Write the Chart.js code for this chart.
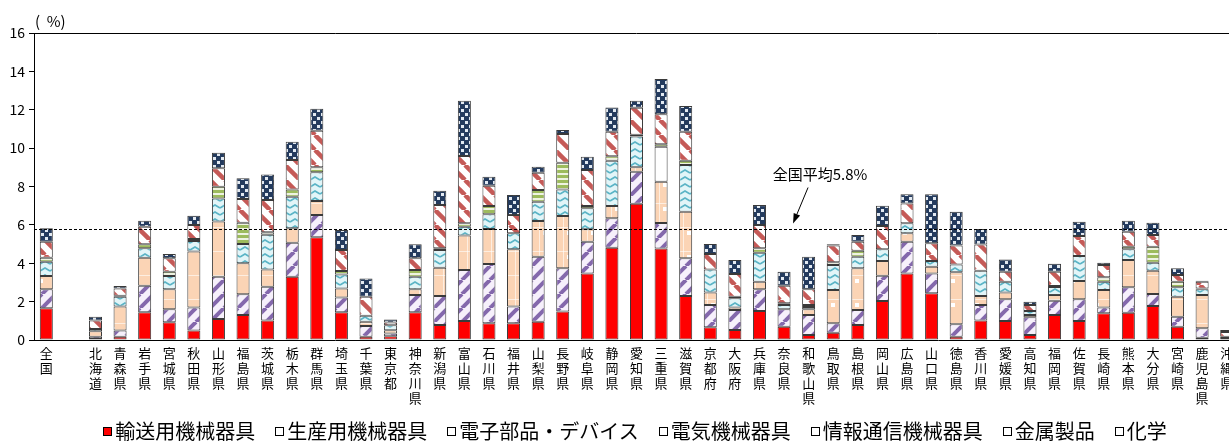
<!DOCTYPE html>
<html>
<head>
<meta charset="utf-8">
<script src="https://cdn.jsdelivr.net/npm/chart.js@4.4.0/dist/chart.umd.min.js"></script>
<style>
html, body { margin: 0; padding: 0; background: #fff; overflow: hidden; }
#wrap { position: relative; width: 1229px; height: 441px; overflow: hidden; }
#box { position: absolute; left: 0; top: 0; width: 1240px; height: 441px; }
#legend { position: absolute; left: 0; top: 421px; width: 1270px; display: flex; justify-content: center;
  font: 20px/20px "Noto Sans CJK JP"; color: #000; white-space: nowrap; }
#legend .item { display: flex; align-items: center; margin: 0 10px; }
#legend i { display: inline-block; width: 7px; height: 7px; border: 1px solid #000; margin-right: 3px; background: #fff; }
</style>
</head>
<body>
<div id="wrap">
  <div id="box"><canvas id="c"></canvas></div>
  <div id="legend"></div>
</div>
<script>
// 業種別 従業者構成比（都道府県別）
const FONT = '"Noto Sans CJK JP", "Noto Sans", sans-serif';
const UNIT_LABEL = '(  %)';
const NATIONAL_AVG = 5.8;
const AVG_LABEL = '全国平均5.8%';

const CATEGORIES = ['全国', '', '北海道', '青森県', '岩手県', '宮城県', '秋田県', '山形県', '福島県', '茨城県', '栃木県',
  '群馬県', '埼玉県', '千葉県', '東京都', '神奈川県', '新潟県', '富山県', '石川県', '福井県', '山梨県', '長野県',
  '岐阜県', '静岡県', '愛知県', '三重県', '滋賀県', '京都府', '大阪府', '兵庫県', '奈良県', '和歌山県', '鳥取県',
  '島根県', '岡山県', '広島県', '山口県', '徳島県', '香川県', '愛媛県', '高知県', '福岡県', '佐賀県', '長崎県',
  '熊本県', '大分県', '宮崎県', '鹿児島県', '沖縄県'];

const Y_TICKS = [0, 2, 4, 6, 8, 10, 12, 14, 16];

// 系列名（空文字は凡例なしの白い層）
const SERIES_NAMES = ['輸送用機械器具', '生産用機械器具', '電子部品・デバイス', '', '電気機械器具', '情報通信機械器具', '金属製品', '化学'];

const transport = [1.65, null, 0.05, 0.17, 1.44, 0.92, 0.49, 1.09, 1.30, 1.01, 3.30, 5.35, 1.44, 0.17, 0.20, 1.44, 0.78, 0.99, 0.87, 0.87, 0.95, 1.48, 3.47, 4.81, 7.10, 4.77, 2.29, 0.66, 0.52, 1.51, 0.69, 0.26, 0.38, 0.78, 2.03, 3.47, 2.43, 0.17, 1.01, 0.99, 0.26, 1.30, 0.99, 1.39, 1.42, 1.77, 0.69, 0.12, 0.05];
const production = [0.99, null, 0.12, 0.32, 1.39, 0.68, 1.21, 2.21, 1.08, 1.77, 1.77, 1.16, 0.78, 0.56, 0.14, 0.91, 1.51, 2.66, 3.09, 0.87, 3.39, 2.26, 1.65, 1.53, 1.67, 1.33, 1.97, 1.16, 1.04, 1.13, 0.91, 1.04, 0.49, 0.78, 1.32, 1.65, 1.04, 0.65, 0.81, 1.13, 0.92, 0.75, 1.13, 0.31, 1.33, 0.63, 0.52, 0.49, 0.05];
const electronic = [0.69, null, 0.28, 1.25, 1.46, 1.04, 2.91, 2.87, 1.62, 0.90, 0.75, 0.73, 0.47, 0.22, 0.17, 0.29, 1.48, 1.79, 1.82, 2.99, 1.86, 2.72, 0.65, 0.64, 0.23, 2.15, 2.43, 0.65, 0.14, 0.40, 0, 0.30, 1.74, 2.18, 0.77, 0.44, 0.35, 2.71, 0.47, 0.35, 0.12, 0.29, 0.95, 0.91, 1.42, 1.21, 1.05, 1.73, 0.05];
const unlabeled = [0, null, 0, 0, 0, 0, 0, 0, 0, 0, 0, 0, 0, 0, 0, 0, 0, 0, 0, 0, 0, 0, 0, 0, 0, 1.82, 0, 0, 0, 0, 0, 0, 0, 0, 0, 0, 0, 0, 0, 0, 0, 0, 0, 0, 0, 0, 0, 0, 0];
const electrical = [0.75, null, 0.12, 0.52, 0.49, 0.69, 0.55, 1.21, 1.00, 1.80, 1.65, 1.50, 0.73, 0.32, 0.26, 0.66, 0.92, 0.46, 0.77, 0.83, 1.01, 1.39, 1.09, 2.36, 1.60, 0, 2.43, 1.21, 0.47, 1.51, 0.22, 0.12, 1.30, 0.60, 0.61, 0.52, 0.30, 0.41, 1.32, 0.57, 0.21, 0.42, 1.31, 0.43, 0.56, 0.42, 0.49, 0.30, 0.02];
const infoComm = [0.21, null, 0, 0.05, 0.21, 0.23, 0.10, 0.61, 1.11, 0.13, 0.38, 0.26, 0.18, 0, 0, 0.35, 0.09, 0.18, 0.43, 0, 0.61, 1.39, 0.12, 0.24, 0.10, 0.13, 0.22, 0, 0.09, 0.23, 0.09, 0.10, 0.14, 0.31, 0, 0, 0, 0, 0, 0, 0, 0.05, 0, 0.23, 0.13, 0.83, 0.29, 0.05, 0];
const metal = [0.83, null, 0.44, 0.38, 0.91, 0.70, 0.74, 0.96, 1.24, 1.69, 1.53, 1.90, 1.09, 0.99, 0.14, 0.61, 2.25, 3.51, 1.06, 0.95, 0.90, 1.49, 1.88, 1.27, 1.40, 1.57, 1.51, 0.80, 1.18, 1.21, 0.92, 0.82, 0.87, 0.47, 1.21, 1.04, 0.92, 0.98, 1.37, 0.52, 0.31, 0.75, 1.04, 0.64, 0.78, 0.61, 0.35, 0.35, 0.25];
const chemical = [0.70, null, 0.20, 0.12, 0.32, 0.22, 0.47, 0.81, 1.08, 1.33, 0.95, 1.15, 1.04, 0.95, 0.16, 0.73, 0.75, 2.88, 0.47, 1.05, 0.31, 0.21, 0.69, 1.27, 0.37, 1.83, 1.35, 0.52, 0.73, 1.04, 0.73, 1.70, 0.07, 0.35, 1.06, 0.47, 2.55, 1.77, 0.80, 0.64, 0.18, 0.42, 0.74, 0.12, 0.58, 0.64, 0.35, 0.05, 0.10];

const SERIES_VALUES = [transport, production, electronic, unlabeled, electrical, infoComm, metal, chemical];

// パターン塗り
function makePattern(w, h, draw) {
  const c = document.createElement('canvas');
  c.width = w; c.height = h;
  const g = c.getContext('2d');
  draw(g, w, h);
  return g.createPattern(c, 'repeat');
}

function stripes(bg, fg, s, lw, rising) {
  return makePattern(s, s, (g) => {
    g.fillStyle = bg; g.fillRect(0, 0, s, s);
    g.strokeStyle = fg; g.lineWidth = lw;
    for (const k of [-1, 0, 1]) {
      g.beginPath();
      if (rising) { g.moveTo(k * s, s); g.lineTo(k * s + s, 0); }
      else { g.moveTo(k * s, 0); g.lineTo(k * s + s, s); }
      g.stroke();
    }
  });
}

const fills = [
  '#ff0000',
  stripes('#f6f0fb', '#8468ac', 14, 4, true),
  makePattern(24, 24, (g) => {
    g.fillStyle = '#fbd4b5'; g.fillRect(0, 0, 24, 24);
    g.fillStyle = 'rgba(255,255,255,0.6)';
    g.fillRect(11, 0, 1, 24); g.fillRect(0, 11, 24, 1);
    g.fillStyle = '#ffffff'; g.fillRect(15, 15, 4, 4);
  }),
  '#ffffff',
  makePattern(10, 7, (g) => {
    g.fillStyle = '#e2f5f8'; g.fillRect(0, 0, 10, 7);
    g.strokeStyle = '#5bb4c6'; g.lineWidth = 1.6;
    g.beginPath(); g.moveTo(0, 5); g.lineTo(5, 2); g.lineTo(10, 5); g.stroke();
  }),
  makePattern(4, 5, (g) => {
    g.fillStyle = '#eef3e1'; g.fillRect(0, 0, 4, 5);
    g.fillStyle = '#9dbb5d'; g.fillRect(0, 0, 4, 3);
  }),
  stripes('#ffffff', '#c55a57', 15, 4.5, false),
  makePattern(8, 8, (g) => {
    g.fillStyle = '#243b5e'; g.fillRect(0, 0, 8, 8);
    g.fillStyle = '#e3eaf2';
    g.fillRect(1, 1, 3, 3); g.fillRect(5, 5, 3, 3);
  })
];

const datasets = SERIES_VALUES.map((vals, i) => ({
  label: SERIES_NAMES[i],
  data: vals,
  backgroundColor: fills[i],
  borderColor: '#3a3a3a',
  borderWidth: (c) => (c.raw ? 1 : 0),
  borderSkipped: false,
  barPercentage: 0.53,
  categoryPercentage: 1.0
}));

const overlay = {
  id: 'overlay',
  afterDatasetsDraw(chart) {
    const { ctx, chartArea: a, scales: { x, y } } = chart;
    ctx.save();
    ctx.strokeStyle = '#000';
    ctx.lineWidth = 1;
    // 上枠
    ctx.beginPath();
    ctx.moveTo(a.left, a.top + 0.5);
    ctx.lineTo(a.right, a.top + 0.5);
    ctx.stroke();
    // 全国平均線
    const yAvg = Math.round(y.getPixelForValue(NATIONAL_AVG)) + 0.5;
    ctx.setLineDash([3, 2]);
    ctx.beginPath();
    ctx.moveTo(a.left, yAvg);
    ctx.lineTo(a.right, yAvg);
    ctx.stroke();
    ctx.setLineDash([]);
    // 単位
    ctx.fillStyle = '#000';
    ctx.font = '15px ' + FONT;
    ctx.textBaseline = 'middle';
    ctx.textAlign = 'left';
    ctx.fillText(UNIT_LABEL, 35, 21);
    // 注記と矢印
    const xRef = x.getPixelForValue(CATEGORIES.indexOf('奈良県'));
    ctx.font = '15px ' + FONT;
    ctx.textAlign = 'center';
    ctx.fillText(AVG_LABEL, xRef + 36, yAvg - 55);
    const tipX = xRef + 9, tipY = yAvg - 6;
    const tailX = tipX + 15, tailY = tipY - 36;
    const len = Math.hypot(tipX - tailX, tipY - tailY);
    const ux = (tipX - tailX) / len, uy = (tipY - tailY) / len;
    const bx = tipX - ux * 10, by = tipY - uy * 10;
    ctx.beginPath();
    ctx.moveTo(tailX, tailY);
    ctx.lineTo(bx, by);
    ctx.stroke();
    ctx.beginPath();
    ctx.moveTo(tipX, tipY);
    ctx.lineTo(bx - uy * 3.5, by + ux * 3.5);
    ctx.lineTo(bx + uy * 3.5, by - ux * 3.5);
    ctx.closePath();
    ctx.fill();
    ctx.restore();
  }
};

new Chart(document.getElementById('c'), {
  type: 'bar',
  data: {
    labels: CATEGORIES.map(s => s.split('')),
    datasets: datasets
  },
  options: {
    responsive: true,
    maintainAspectRatio: false,
    animation: false,
    devicePixelRatio: 1,
    layout: { padding: { top: 33, right: 1, bottom: 26, left: 0 } },
    plugins: {
      legend: { display: false },
      tooltip: { enabled: false }
    },
    scales: {
      x: {
        stacked: true,
        grid: { display: false, drawTicks: false },
        border: { color: '#000' },
        ticks: {
          autoSkip: false, maxRotation: 0, minRotation: 0, padding: 6,
          color: '#000', font: { family: FONT, size: 13, lineHeight: 1.15 }
        },
        afterFit: (s) => { s.height = 75; }
      },
      y: {
        stacked: true,
        min: 0,
        max: 16,
        afterBuildTicks: (s) => { s.ticks = Y_TICKS.map(v => ({ value: v })); },
        ticks: { padding: 4, color: '#000', font: { family: FONT, size: 14 } },
        grid: { drawOnChartArea: false, drawTicks: true, tickLength: 5, color: '#000' },
        border: { color: '#000' },
        afterFit: (s) => { s.width = 34; }
      }
    }
  },
  plugins: [overlay]
});

// 凡例
const legendEl = document.getElementById('legend');
SERIES_NAMES.forEach((name, i) => {
  if (!name) return;
  const item = document.createElement('span');
  item.className = 'item';
  const box = document.createElement('i');
  if (i === 0) box.style.background = '#ff0000';
  item.appendChild(box);
  item.appendChild(document.createTextNode(name));
  legendEl.appendChild(item);
});
</script>
</body>
</html>
